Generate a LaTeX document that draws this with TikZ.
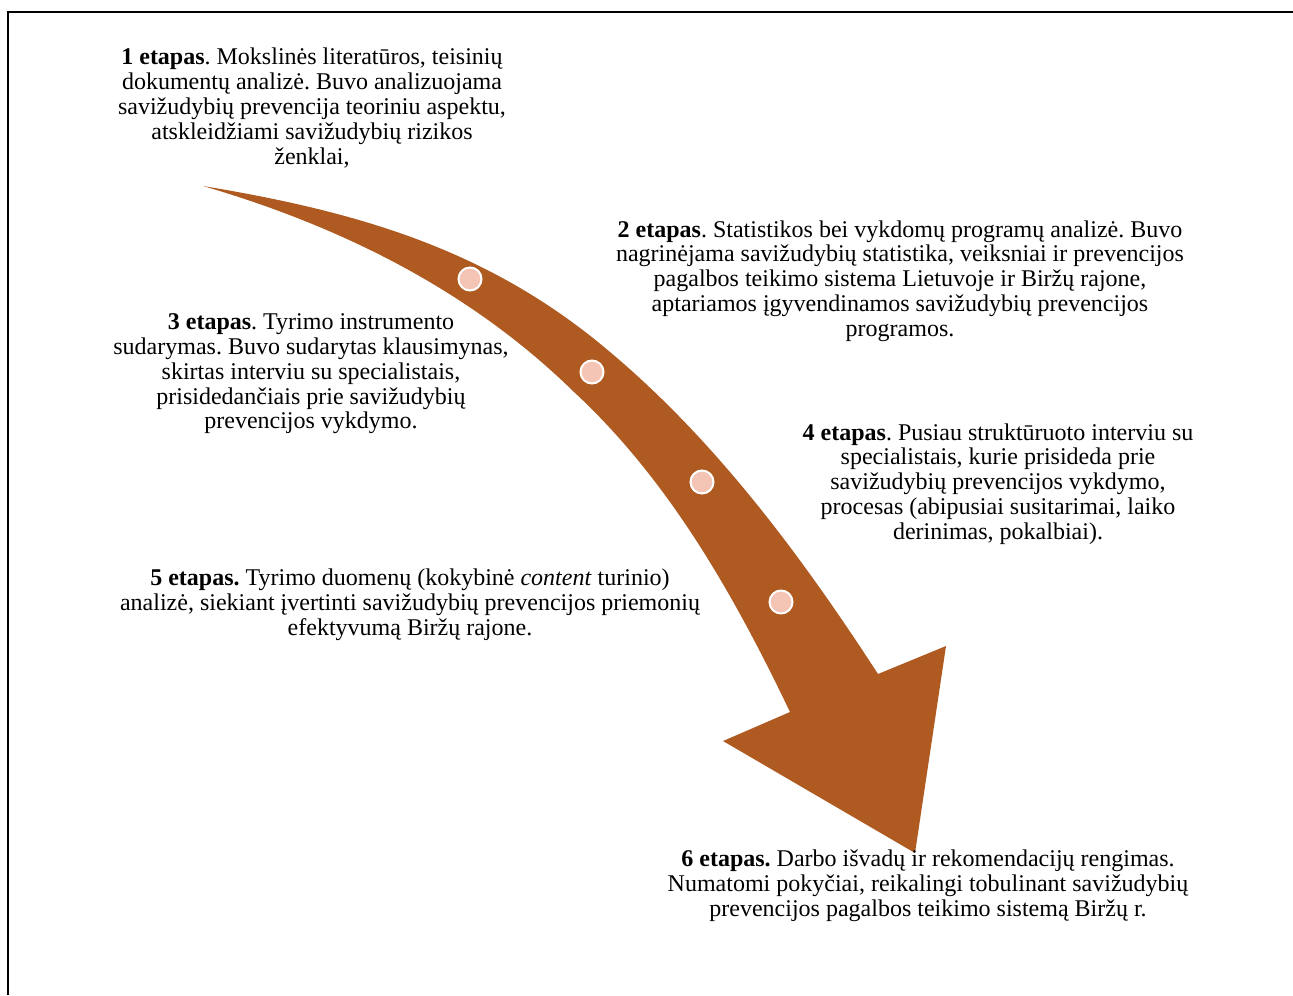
\documentclass[tikz,border=0pt]{standalone}
\usepackage{fontspec}
\setmainfont{Liberation Serif}
\definecolor{arrowbrown}{HTML}{AE5A21}
\definecolor{dotpink}{HTML}{F4C4B5}
\begin{document}
\frenchspacing
\begin{tikzpicture}[x=0.5pt,y=-0.5pt,
  stage/.style={align=center,inner sep=0pt,font=\fontsize{12}{12.4}\selectfont},
  stepdot/.style={circle,fill=dotpink,draw=white,line width=1pt,minimum size=11.5pt,inner sep=0pt}]
\useasboundingbox (0,0) rectangle (1293,995);
% frame
\draw[line width=1pt] (8,995) -- (8,12.5) -- (1293,12.5);
% curved arrow
\fill[arrowbrown] (203,186)
  .. controls (360,212) and (490,250) .. (610,352)
  .. controls (717,442) and (802,557) .. (878,674)
  -- (946,646) -- (915,853) -- (723,741) -- (790,712)
  .. controls (734,595) and (669,480) .. (574,392)
  .. controls (470,290) and (340,226) .. (203,186) -- cycle;
% stage markers
\node[stepdot] (d1) at (470,279) {};
\node[stepdot] (d2) at (592,372) {};
\node[stepdot] (d3) at (702,482) {};
\node[stepdot] (d4) at (781,602) {};
% stage texts
\node[stage] (s1) at (312,108) {\textbf{1 etapas}. Mokslinės literatūros, teisinių\\dokumentų analizė. Buvo analizuojama\\savižudybių prevencija teoriniu aspektu,\\atskleidžiami savižudybių rizikos\\ženklai,};
\node[stage] (s2) at (900,281) {\textbf{2 etapas}. Statistikos bei vykdomų programų analizė. Buvo\\nagrinėjama savižudybių statistika, veiksniai ir prevencijos\\pagalbos teikimo sistema Lietuvoje ir Biržų rajone,\\aptariamos įgyvendinamos savižudybių prevencijos\\programos.};
\node[stage] (s3) at (311,374) {\textbf{3 etapas}. Tyrimo instrumento\\sudarymas. Buvo sudarytas klausimynas,\\skirtas interviu su specialistais,\\prisidedančiais prie savižudybių\\prevencijos vykdymo.};
\node[stage] (s4) at (998,484) {\textbf{4 etapas}. Pusiau struktūruoto interviu su\\specialistais, kurie prisideda prie\\savižudybių prevencijos vykdymo,\\procesas (abipusiai susitarimai, laiko\\derinimas, pokalbiai).};
\node[stage] (s5) at (410,605) {\textbf{5 etapas.} Tyrimo duomenų (kokybinė \textit{content} turinio)\\analizė, siekiant įvertinti savižudybių prevencijos priemonių\\efektyvumą Biržų rajone.};
\node[stage] (s6) at (928,886) {\textbf{6 etapas.} Darbo išvadų ir rekomendacijų rengimas.\\Numatomi pokyčiai, reikalingi tobulinant savižudybių\\prevencijos pagalbos teikimo sistemą Biržų r.};
\end{tikzpicture}
\end{document}
